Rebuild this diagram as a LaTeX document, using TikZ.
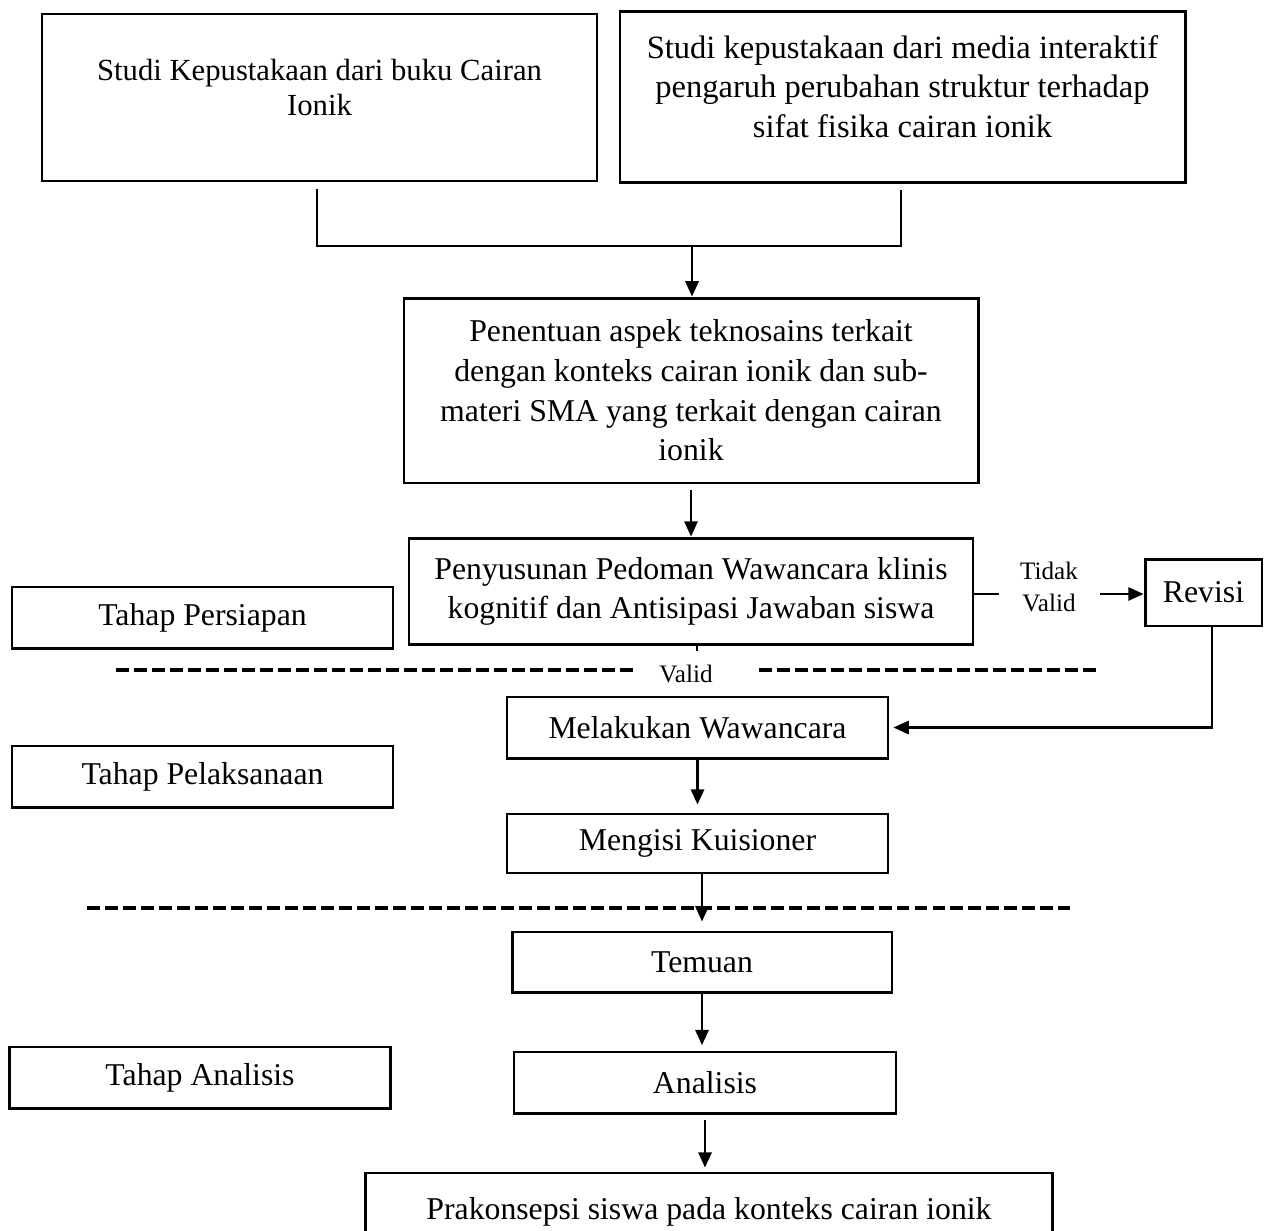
\documentclass[tikz,border=0pt]{standalone}
\usepackage{fontspec}
\setmainfont{Liberation Serif}
\usetikzlibrary{arrows.meta}
\tikzstyle{kotak}=[rectangle, draw, line width=1.1pt, align=center, inner sep=2pt, font=\fontsize{12}{15}\selectfont]
\tikzstyle{tahap}=[kotak, minimum width=144pt, minimum height=23.1pt]
\tikzstyle{panah}=[-{Triangle[length=5.8pt,width=5pt]}, line width=0.9pt]
\tikzstyle{garis}=[line width=0.9pt]
\tikzstyle{putus}=[line width=1.5pt, dash pattern=on 4.9pt off 1.9pt]
\tikzstyle{ket}=[font=\fontsize{9.5}{12}\selectfont, align=center, inner sep=0pt]

\begin{document}
\begin{tikzpicture}[x=0.378pt, y=-0.378pt]
\useasboundingbox (0,0) rectangle (1264,1230);

% studi pustaka
\node[kotak, minimum width=209.8pt, minimum height=63.1pt, font=\fontsize{11.6}{13.2}\selectfont] (sa) at (319.5,97.5)
  {\raisebox{2.6pt}[\height][\depth]{\begin{tabular}{@{}c@{}}Studi Kepustakaan dari buku Cairan\\Ionik\end{tabular}}};
\node[kotak, minimum width=213.6pt, minimum height=64.3pt, font=\fontsize{12.3}{15}\selectfont] (sb) at (902.5,97)
  {\raisebox{2.7pt}[\height][\depth]{\begin{tabular}{@{}c@{}}Studi kepustakaan dari media interaktif\\pengaruh perubahan struktur terhadap\\sifat fisika cairan ionik\end{tabular}}};

\coordinate (a1) at (317,189);
\coordinate (a2) at (317,246);
\coordinate (b1) at (901,190);
\coordinate (b2) at (901,246);
\coordinate (pm) at (692,246);

\node[kotak, minimum width=217pt, minimum height=69.9pt] (pc) at (691,390.5) {Penentuan aspek teknosains terkait\\dengan konteks cairan ionik dan sub-\\materi SMA yang terkait dengan cairan\\ionik};
\node[kotak, minimum width=213.2pt, minimum height=40.4pt] (pd) at (691,591.5) {Penyusunan Pedoman Wawancara klinis\\kognitif dan Antisipasi Jawaban siswa};
\node[kotak, minimum width=44.2pt, minimum height=25.3pt] (rev) at (1203.5,592.5) {Revisi};
\node[ket] (tv) at (1049,587) {Tidak\\Valid};
\coordinate (tv1) at (999,594);
\coordinate (tv2) at (1100,594);

% tahap
\node[tahap] (tp1) at (202.5,617.5) {Tahap Persiapan};
\node[tahap] (tp2) at (202.5,776.5) {Tahap Pelaksanaan};
\node[tahap] (tp3) at (200,1077.5) {Tahap Analisis};

\node[tahap] (mw) at (697.5,727.5) {Melakukan Wawancara};
\node[tahap, minimum height=22.3pt] (mk) at (697.5,843.5) {Mengisi Kuisioner};
\node[tahap, minimum width=143.6pt, minimum height=22.7pt] (tm) at (702,962) {Temuan};
\node[tahap, minimum width=144.4pt] (an) at (705,1082.5) {Analisis};
\node[kotak, minimum width=260pt, minimum height=29.1pt] (pk) at (709,1211.5) {Prakonsepsi siswa pada konteks cairan ionik};

% garis batas
\node[ket] (vl) at (686,674) {Valid};
\coordinate (d1) at (116,670);
\coordinate (d2) at (637,670);
\coordinate (d3) at (759,670);
\coordinate (d4) at (1098,670);
\coordinate (e1) at (87,908);
\coordinate (e2) at (1070,908);
\draw[putus] (d1) -- (d2);
\draw[putus] (d3) -- (d4);
\draw[putus] (e1) -- (e2);

% panah
\draw[line width=0.6pt] (a1) -- (a2) -- (b2) -- (b1);
\draw[panah] (pm) -- (pm |- pc.north);
\draw[panah, shorten <=2pt] (pc.south) -- (pd.north);
\draw[garis] (pd.east |- tv1) -- (tv1);
\draw[panah] (tv2) -- (tv2 -| rev.west);
\draw[garis] ([xshift=2.3pt]pd.south) -- ++(0,5);
\draw[panah, shorten >=1.5pt] ([xshift=3.2pt]rev.south) |- (mw.east);
\draw[panah, shorten >=3pt] (mw.south) -- (mk.north);
\draw[panah, shorten >=3.4pt] (mk.south -| tm.north) -- (tm.north);
\draw[panah, shorten >=2pt] (tm.south) -- (tm.south |- an.north);
\draw[panah, shorten <=2pt, shorten >=1.5pt] (an.south) -- (an.south |- pk.north);

\end{tikzpicture}
\end{document}
